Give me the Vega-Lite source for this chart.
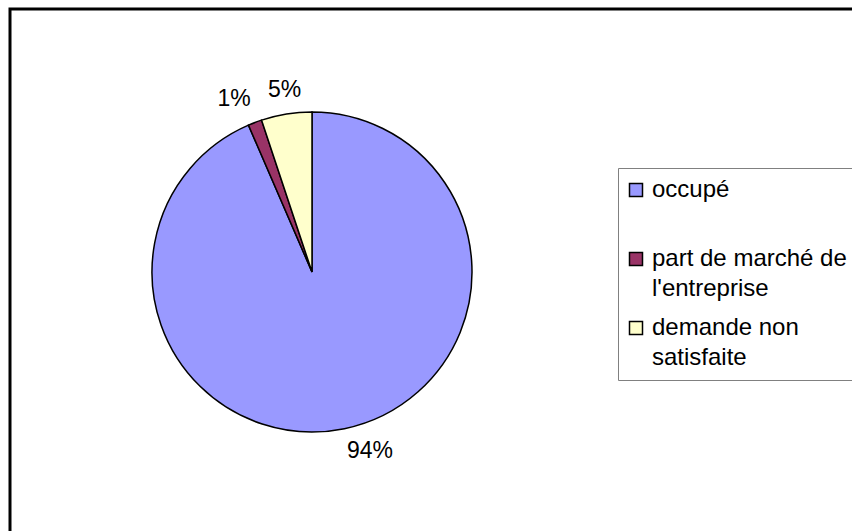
{
  "$schema": "https://vega.github.io/schema/vega-lite/v6.json",
  "width": 850,
  "height": 530,
  "autosize": {"type": "none"},
  "padding": {"left": 10, "top": 9, "right": 0, "bottom": 0},
  "background": "white",
  "config": {
    "view": {"stroke": "black", "strokeWidth": 3},
    "font": "Liberation Sans",
    "legend": {"strokeColor": "#808080"}
  },
  "data": {
    "values": [
      {"cat": "occupé", "value": 93.5, "label": "94%", "i": 1},
      {"cat": "part de marché de l'entreprise", "value": 1.4, "label": "1%", "i": 2},
      {"cat": "demande non satisfaite", "value": 5.1, "label": "5%", "i": 3}
    ]
  },
  "encoding": {
    "theta": {"field": "value", "type": "quantitative", "stack": true},
    "order": {"field": "i", "type": "quantitative"},
    "x": {"value": 302},
    "y": {"value": 263}
  },
  "layer": [
    {
      "mark": {"type": "arc", "outerRadius": 160, "stroke": "black", "strokeWidth": 1.5},
      "encoding": {
        "color": {
          "field": "cat",
          "type": "nominal",
          "scale": {
            "domain": ["occupé", "part de marché de l'entreprise", "demande non satisfaite"],
            "range": ["#9999FF", "#993366", "#FFFFCC"]
          },
          "legend": {
            "title": null,
            "orient": "none",
            "legendX": 608,
            "legendY": 159,
            "strokeColor": "#808080",
            "padding": 10,
            "symbolType": "square",
            "symbolSize": 169,
            "symbolOffset": -4,
            "symbolStrokeColor": "black",
            "symbolStrokeWidth": 1.5,
            "symbolOpacity": 1,
            "labelFontSize": 24,
            "labelColor": "black",
            "labelLimit": 400,
            "labelOffset": 4,
            "rowPadding": 15,
            "labelExpr": "datum.value == 'occupé' ? ['occupé', ''] : datum.value == 'demande non satisfaite' ? ['demande non', 'satisfaite'] : ['part de marché de', \"l'entreprise\"]",
            "encode": {
              "labels": {"update": {"lineHeight": {"value": 30}}}
            }
          }
        }
      }
    },
    {
      "mark": {
        "type": "text",
        "radius": 172,
        "fontSize": 23,
        "color": "black",
        "align": {"expr": "abs(sin(PI * (datum.value_start + datum.value_end) / 100)) < 0.2 ? 'center' : sin(PI * (datum.value_start + datum.value_end) / 100) >= 0 ? 'left' : 'right'"},
        "baseline": {"expr": "cos(PI * (datum.value_start + datum.value_end) / 100) >= 0 ? 'bottom' : 'top'"}
      },
      "encoding": {
        "text": {"field": "label", "type": "nominal"}
      }
    }
  ]
}
